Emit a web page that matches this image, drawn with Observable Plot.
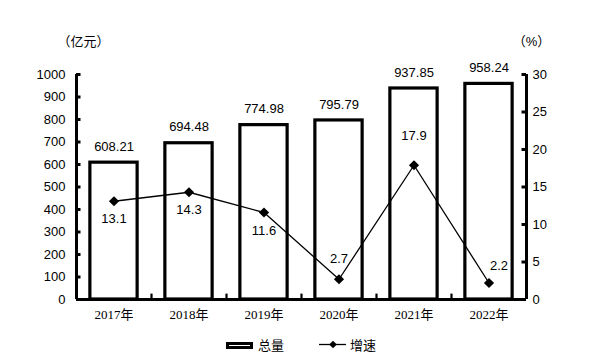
<!DOCTYPE html>
<html>
<head>
<meta charset="utf-8">
<script src="https://cdn.jsdelivr.net/npm/d3@7"></script>
<script src="https://cdn.jsdelivr.net/npm/@observablehq/plot@0.6"></script>
<style>
  html, body { margin: 0; padding: 0; background: #fff; }
  #chart { width: 590px; }
  #legend { position: relative; width: 590px; height: 28px; }
</style>
</head>
<body>
<div id="chart"></div>
<div id="legend"></div>
<script>
const years = ["2017年", "2018年", "2019年", "2020年", "2021年", "2022年"];
const totals = [608.21, 694.48, 774.98, 795.79, 937.85, 958.24];
const rates = [13.1, 14.3, 11.6, 2.7, 17.9, 2.2];
const leftTicks = [0, 100, 200, 300, 400, 500, 600, 700, 800, 900, 1000];
const rightTicks = [0, 5, 10, 15, 20, 25, 30];
const leftUnit = "（亿元）";
const rightUnit = "（%）";
const legendLabels = ["总量", "增速"];

const rows = years.map((year, i) => ({i, year, total: totals[i], rate: rates[i]}));
const k = 1000 / 30; // right-axis (%) to left-axis scale factor
const n = years.length;
const px = 1 / 75; // one pixel in x units (band step = 75px)

const sans = '"Liberation Sans", "Noto Sans CJK SC", sans-serif';
const serif = '"Liberation Serif", "DejaVu Serif", "Noto Sans CJK SC", serif';

const chart = Plot.plot({
  width: 590,
  height: 330,
  marginLeft: 76,
  marginRight: 64,
  marginTop: 74,
  marginBottom: 31,
  style: {fontFamily: sans, fontSize: "13px", color: "#000", background: "#fff"},
  x: {type: "linear", domain: [0, n]},
  y: {domain: [0, 1000]},
  marks: [
    Plot.rectY(rows, {x1: d => d.i + 0.185, x2: d => d.i + 0.815, y: "total", fill: "white", stroke: "black", strokeWidth: 3.2}),
    Plot.line(rows, {x: d => d.i + 0.5, y: d => d.rate * k, stroke: "black", strokeWidth: 1.3}),
    Plot.dot(rows, {x: d => d.i + 0.5, y: d => d.rate * k, symbol: "diamond2", r: 4.6, fill: "black", stroke: "none"}),
    Plot.ruleX([0, n], {strokeWidth: 3}),
    Plot.ruleY([0], {strokeWidth: 3}),
    Plot.ruleY(leftTicks, {x1: 0, x2: 4.5 * px, strokeWidth: 3}),
    Plot.ruleY(rightTicks.map(v => v * k), {x1: n - 4.5 * px, x2: n, strokeWidth: 3}),
    Plot.ruleX(d3.range(1, n), {y1: 0, y2: 24, strokeWidth: 2.2}),
    Plot.axisY({anchor: "left", label: null, ticks: leftTicks, tickFormat: d => String(d), tickSize: 0, tickPadding: 11, fontSize: 13}),
    Plot.axisY({anchor: "right", label: null, ticks: rightTicks.map(v => v * k), tickFormat: d => String(Math.round(d / k)), tickSize: 0, tickPadding: 6, fontSize: 13}),
    Plot.axisX({label: null, ticks: d3.range(n).map(i => i + 0.5), tickFormat: d => years[Math.floor(d)], tickSize: 0, tickPadding: 10, fontFamily: serif, fontSize: 13}),
    Plot.text(rows, {x: d => d.i + 0.5, y: "total", text: d => d.total.toFixed(2), dy: -16, fontSize: 13}),
    Plot.text(rows.filter(d => d.i < 3), {x: d => d.i + 0.5, y: d => d.rate * k, text: d => d.rate.toFixed(1), dy: 18, fontSize: 13}),
    Plot.text(rows.filter(d => d.i === 3), {x: d => d.i + 0.5, y: d => d.rate * k, text: d => d.rate.toFixed(1), dy: -20, fontSize: 13}),
    Plot.text(rows.filter(d => d.i === 4), {x: d => d.i + 0.5, y: d => d.rate * k, text: d => d.rate.toFixed(1), dy: -29, fontSize: 13}),
    Plot.text(rows.filter(d => d.i === 5), {x: d => d.i + 0.5, y: d => d.rate * k, text: d => d.rate.toFixed(1), dx: 10, dy: -17, fontSize: 13}),
    Plot.text([leftUnit], {x: 0, y: 1000, text: d => d, dx: 7, dy: -33, fontSize: 13}),
    Plot.text([rightUnit], {x: n, y: 1000, text: d => d, dx: 5, dy: -33, fontSize: 13})
  ]
});
document.getElementById("chart").appendChild(chart);

// legend below the chart
const lg = d3.select("#legend").append("svg")
  .attr("width", 590).attr("height", 28)
  .style("font-family", sans).style("font-size", "13px");
lg.append("rect").attr("x", 227.5).attr("y", 13.5).attr("width", 24).attr("height", 4)
  .attr("fill", "white").attr("stroke", "black").attr("stroke-width", 3);
lg.append("text").attr("x", 258).attr("y", 15.5).attr("dy", "0.35em").text(legendLabels[0]);
lg.append("line").attr("x1", 319).attr("x2", 346).attr("y1", 14.5).attr("y2", 14.5)
  .attr("stroke", "black").attr("stroke-width", 1.3);
lg.append("path").attr("d", d3.symbol(d3.symbolDiamond2, Math.pow(4.6 * 1.9, 2) / 2)())
  .attr("transform", "translate(333,14.5)").attr("fill", "black");
lg.append("text").attr("x", 350).attr("y", 15.5).attr("dy", "0.35em").text(legendLabels[1]);
</script>
</body>
</html>
